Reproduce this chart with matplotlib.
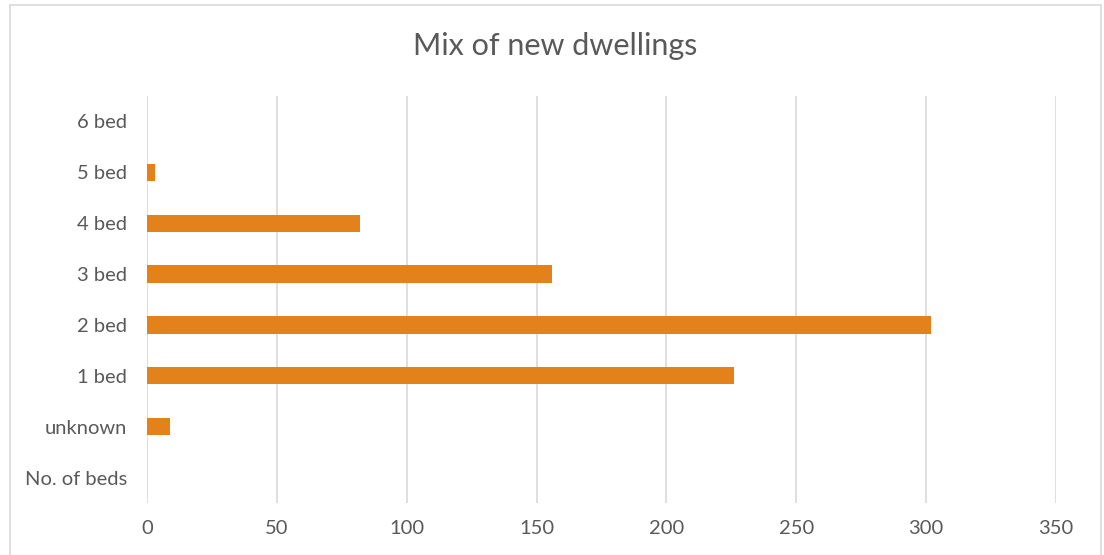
import matplotlib
matplotlib.use("Agg")
import matplotlib.pyplot as plt
from matplotlib.patches import Rectangle

categories = ["No. of beds", "unknown", "1 bed", "2 bed", "3 bed", "4 bed", "5 bed", "6 bed"]
values = [0, 9, 226, 302, 156, 82, 3, 0]
x_ticks = [0, 50, 100, 150, 200, 250, 300, 350]
title = "Mix of new dwellings"

plt.rcParams['font.family'] = ['Lato', 'DejaVu Sans']
text_color = "#595959"
bar_color = "#E3821A"
grid_color = "#D9D9D9"

fig = plt.figure(figsize=(11.04, 5.55), dpi=100)
ax = fig.add_axes([147/1104, 1 - 503/555, (1056 - 147)/1104, (503 - 96)/555])

ypos = list(range(len(categories)))
ax.barh(ypos, values, height=0.34, color=bar_color, zorder=3)
ax.set_ylim(-0.5, len(categories) - 0.5)
ax.set_xlim(0, 350)
ax.set_xticks(x_ticks)
ax.set_xticklabels([str(t) for t in x_ticks])
ax.set_yticks(ypos)
ax.set_yticklabels(categories)
ax.tick_params(axis='both', length=0, labelsize=14.5, colors=text_color)
ax.tick_params(axis='x', pad=12)
ax.tick_params(axis='y', pad=14.5)
for s in ax.spines.values():
    s.set_visible(False)
ax.xaxis.grid(True, color=grid_color, linewidth=1.2, zorder=0)
ax.set_axisbelow(True)

fig.text(555/1104, 1 - 46/555, title, ha='center', va='center', fontsize=22, color=text_color)

fig.patches.append(Rectangle((10/1104, -0.05), (1101 - 10)/1104, 1.05 - 5/555,
                             transform=fig.transFigure, fill=False,
                             edgecolor="#D9D9D9", linewidth=1.2))

fig.savefig("out.png", dpi=100)
